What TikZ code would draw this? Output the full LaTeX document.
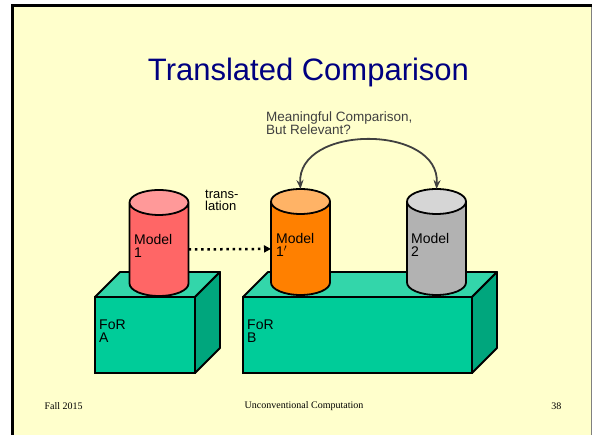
\documentclass[tikz,border=0pt]{standalone}
\usepackage{fontspec}
\setmainfont{Liberation Sans}
\newfontfamily\footfont{Liberation Serif}
\usepackage{xcolor}
\usepackage{tikz}
\usetikzlibrary{calc}
\usetikzlibrary{positioning}
\usetikzlibrary{shapes.geometric}
\usetikzlibrary{arrows.meta}

\definecolor{slidebg}{RGB}{255,255,204}
\definecolor{titleblue}{RGB}{0,0,128}
\definecolor{forfront}{RGB}{0,204,153}
\definecolor{fortop}{RGB}{51,214,170}
\definecolor{forside}{RGB}{0,166,125}
\definecolor{redbody}{RGB}{255,102,102}
\definecolor{redtop}{RGB}{255,153,153}
\definecolor{orangebody}{RGB}{255,128,0}
\definecolor{orangetop}{RGB}{255,179,102}
\definecolor{graybody}{RGB}{178,178,178}
\definecolor{graytop}{RGB}{214,214,214}
\definecolor{arcgray}{RGB}{64,64,64}

\begin{document}
\begin{tikzpicture}[x=1pt, y=1pt]

        \def\dx{25}
        \def\w{1.8pt}

        % Looks of the boxes, the cans and the texts
        \tikzset{
            front/.style={draw, line width=\w, fill=forfront,
                outer sep=0pt, inner sep=0pt},
            can/.style={cylinder, shape border rotate=90, aspect=0.51,
                draw, line width=\w, minimum width=59pt,
                minimum height=106pt, inner sep=0pt, outer sep=0pt,
                text width=49pt, cylinder uses custom fill,
                anchor=shape center},
            lbl/.style={align=left, inner sep=0pt, anchor=west,
                font=\fontsize{14}{12.5}\selectfont}
        }

        \useasboundingbox (0,0) rectangle (593,435);

        % The slide itself
        \fill[white] (0,0) rectangle (593,435);
        \fill[slidebg] (12.5,0) rectangle (591.5,429.5);
        \draw[gray, line width=1pt] (591.5,0) -- (591.5,429.5);
        \draw[black, line width=2.5pt] (12.5,0) -- (12.5,429.5) -- (591.5,429.5);

        \node (title) [anchor=base, text=titleblue,
            font=\fontsize{31}{31}\selectfont] at (308.5,354.4)
            {Translated Comparison};

        % Scope used for the two frames of reference
        \begin{scope}
            \node (A) [front, minimum width=100pt, minimum height=76pt]
                at (145,100) {};
            \node (B) [front, minimum width=229pt, minimum height=76pt]
                at (357.5,100) {};

            \foreach \b in {A, B} {
                \draw[line width=\w, line join=round, fill=fortop]
                    (\b.north west) -- ++(\dx,\dx)
                    -- ($(\b.north east)+(\dx,\dx)$) -- (\b.north east) -- cycle;
                \draw[line width=\w, line join=round, fill=forside]
                    (\b.north east) -- ++(\dx,\dx)
                    -- ($(\b.south east)+(\dx,\dx)$) -- (\b.south east) -- cycle;
            }

            \node (forA) [lbl] at (99,104) {FoR\\A};
            \node (forB) [lbl] at (247,104) {FoR\\B};
        \end{scope}

        % The three models
        \node (m1) [can, cylinder body fill=redbody, cylinder end fill=redtop]
            at (159,192) {};
        \node (m1p) [can, cylinder body fill=orangebody,
            cylinder end fill=orangetop] at (300.5,193) {};
        \node (m2) [can, cylinder body fill=graybody,
            cylinder end fill=graytop] at (436.5,193) {};

        \node (t1) [lbl] at ($(m1.shape center)+(-25,-3)$) {Model\\1};
        \node (t1p) [lbl] at ($(m1p.shape center)+(-24.5,-3)$) {Model\\1$'$};
        \node (t2) [lbl] at ($(m2.shape center)+(-25.5,-3)$) {Model\\2};

        \node (trans) [lbl, font=\fontsize{13}{12}\selectfont]
            at (205,234.5) {trans-\\lation};
        \node (meaning) [lbl, text=arcgray,
            font=\fontsize{13.5}{13}\selectfont]
            at (266,311.5) {Meaningful Comparison,\\But Relevant?};

        \begin{scope}
            \draw[line width=2.5pt, dash pattern=on 2.5pt off 3.8pt,
                -{Triangle[length=7pt, width=7pt]}] (m1) -- (m1p);
            \draw[arcgray, line width=\w,
                {Stealth[length=9pt, width=7pt]}-{Stealth[length=9pt, width=7pt]}]
                (m1p.north) .. controls +(-4,65) and +(4,65) .. (m2.north);
        \end{scope}

        % Footer
        \node (date) [anchor=west, font=\footfont\fontsize{10}{10}\selectfont]
            at (41,29) {Fall 2015};
        \node (course) [font=\footfont\fontsize{10}{10}\selectfont]
            at (304,29) {Unconventional Computation};
        \node (page) [anchor=east, font=\footfont\fontsize{10}{10}\selectfont]
            at (565,29) {38};

\end{tikzpicture}
\end{document}
